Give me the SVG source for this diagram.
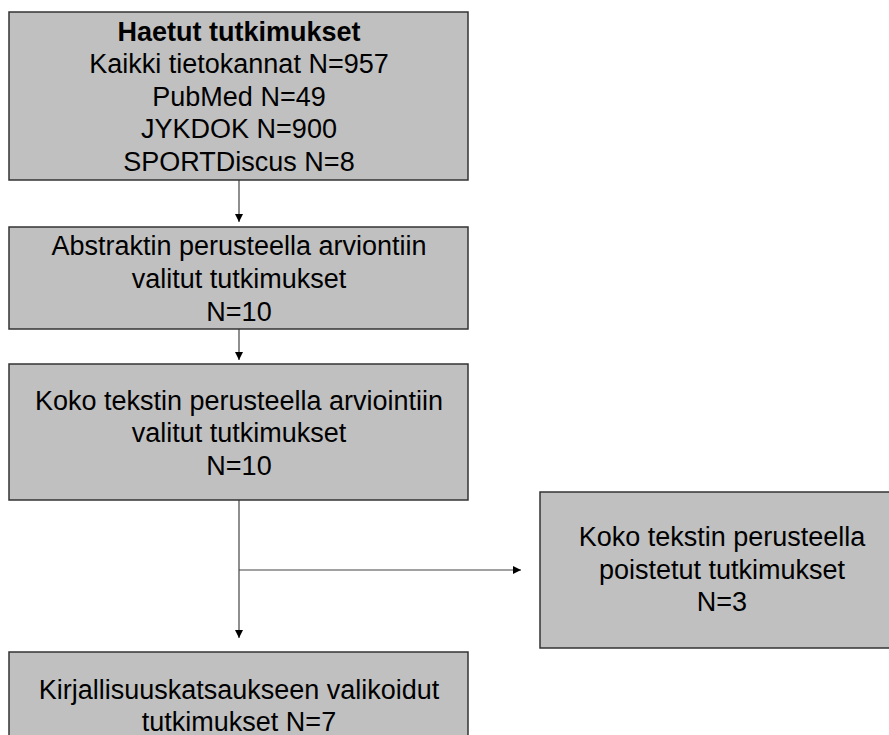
<svg xmlns="http://www.w3.org/2000/svg" width="889" height="735" viewBox="0 0 889 735">
<style>
.box{fill:#c0c0c0;stroke:#333;stroke-width:1.5}
.t{font-family:"Liberation Sans",Arial,Helvetica,sans-serif;font-size:27px;fill:#000;text-anchor:middle}
.b{font-weight:bold}
.ln{stroke:#444;stroke-width:1.2;fill:none}
</style>
<defs>
<marker id="ah" markerWidth="8" markerHeight="8" refX="8" refY="4" orient="auto" markerUnits="userSpaceOnUse">
<path d="M0,0 L8,4 L0,8 Z" fill="#000"/>
</marker>
</defs>
<g id="connectors">
<line class="ln" x1="239" y1="180" x2="239" y2="222" marker-end="url(#ah)"/>
<line class="ln" x1="239" y1="329" x2="239" y2="360" marker-end="url(#ah)"/>
<line class="ln" x1="239" y1="500" x2="239" y2="638" marker-end="url(#ah)"/>
<line class="ln" x1="239" y1="570" x2="521" y2="570" marker-end="url(#ah)"/>
</g>
<g id="n1">
<rect class="box" x="9" y="12" width="459" height="168"/>
<text class="t b" x="239" y="40.5">Haetut tutkimukset</text>
<text class="t" x="239" y="73">Kaikki tietokannat N=957</text>
<text class="t" x="239" y="105.5">PubMed N=49</text>
<text class="t" x="239" y="138">JYKDOK N=900</text>
<text class="t" x="239" y="170.5">SPORTDiscus N=8</text>
</g>
<g id="n2">
<rect class="box" x="9" y="227" width="459" height="102"/>
<text class="t" x="239" y="255">Abstraktin perusteella arviontiin</text>
<text class="t" x="239" y="287.5">valitut tutkimukset</text>
<text class="t" x="239" y="320.5">N=10</text>
</g>
<g id="n3">
<rect class="box" x="9" y="364" width="459" height="136"/>
<text class="t" x="239" y="409.5">Koko tekstin perusteella arviointiin</text>
<text class="t" x="239" y="442">valitut tutkimukset</text>
<text class="t" x="239" y="475">N=10</text>
</g>
<g id="n4">
<rect class="box" x="540" y="492" width="364" height="156"/>
<text class="t" x="722" y="546">Koko tekstin perusteella</text>
<text class="t" x="722" y="578.5">poistetut tutkimukset</text>
<text class="t" x="722" y="611">N=3</text>
</g>
<g id="n5">
<rect class="box" x="9" y="652" width="459" height="100"/>
<text class="t" x="239" y="698.5">Kirjallisuuskatsaukseen valikoidut</text>
<text class="t" x="239" y="730.5">tutkimukset N=7</text>
</g>
</svg>
